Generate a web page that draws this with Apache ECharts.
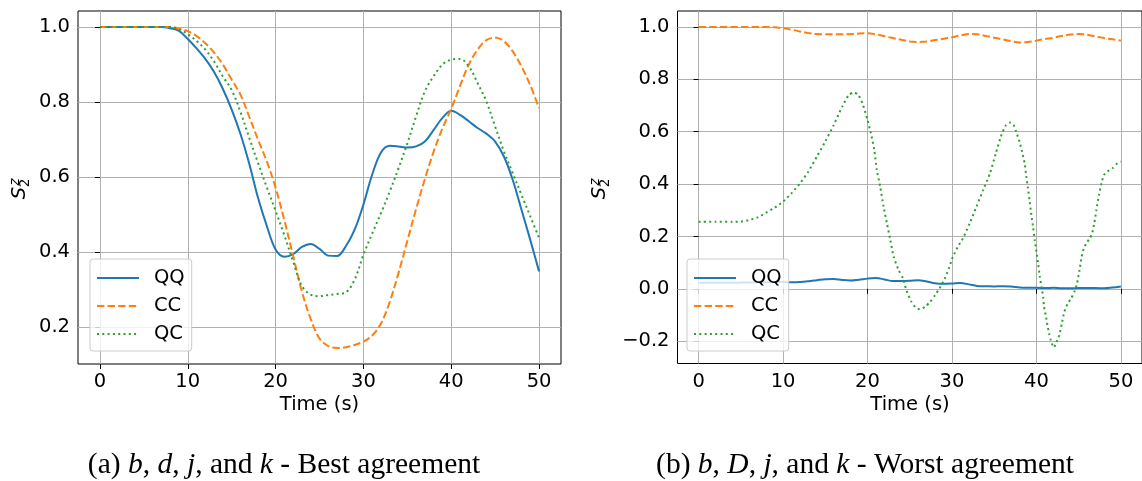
<!DOCTYPE html>
<html><head><meta charset="utf-8">
<script src="https://cdn.jsdelivr.net/npm/echarts@6/dist/echarts.min.js"></script>
<style>html,body{margin:0;padding:0;background:#fff}#c{width:1142px;height:481px}</style>
</head><body><div id="c"></div>
<script>
// ---- data ----
const seriesNames = ['QQ', 'CC', 'QC'];
const xTicks = [0, 10, 20, 30, 40, 50];
const yTicksA = [0.2, 0.4, 0.6, 0.8, 1.0];
const yTicksB = [-0.2, 0.0, 0.2, 0.4, 0.6, 0.8, 1.0];
const captionA = '(a) {i|b}, {i|d}, {i|j}, and {i|k} - Best agreement';
const captionB = '(b) {i|b}, {i|D}, {i|j}, and {i|k} - Worst agreement';
const xTitle = 'Time (s)';

const time = [0,1,2,3,4,5,6,7,8,9,10,11,12,13,14,15,16,17,18,19,20,21,22,23,24,25,26,27,28,29,30,31,32,33,34,35,36,37,38,39,40,41,42,43,44,45,46,47,48,49,50];

// (a) best agreement
const qqA = [1.0,1.0,1.0,1.0,1.0,1.0,1.0,1.0,0.997,0.99,0.968,0.943,0.915,0.88,0.835,0.78,0.715,0.636,0.545,0.47,0.407,0.388,0.395,0.414,0.422,0.409,0.391,0.39,0.416,0.46,0.527,0.607,0.666,0.684,0.682,0.679,0.682,0.695,0.726,0.758,0.777,0.766,0.749,0.731,0.716,0.695,0.655,0.593,0.513,0.433,0.349];
const ccA = [1.0,1.0,1.0,1.0,1.0,1.0,1.0,1.0,1.0,0.996,0.989,0.976,0.957,0.932,0.9,0.86,0.82,0.761,0.70,0.642,0.572,0.485,0.39,0.295,0.222,0.17,0.15,0.145,0.147,0.153,0.162,0.178,0.21,0.268,0.345,0.43,0.515,0.595,0.668,0.73,0.782,0.843,0.9,0.94,0.965,0.972,0.962,0.935,0.895,0.845,0.784];
const qcA = [1.0,1.0,1.0,1.0,1.0,1.0,1.0,1.0,1.0,0.994,0.981,0.963,0.94,0.908,0.868,0.832,0.774,0.705,0.638,0.573,0.51,0.445,0.375,0.31,0.287,0.283,0.286,0.289,0.293,0.327,0.393,0.45,0.504,0.562,0.624,0.69,0.762,0.829,0.869,0.9,0.913,0.915,0.895,0.851,0.802,0.735,0.669,0.611,0.553,0.496,0.438];

// (b) worst agreement
const qqB = [0.023,0.023,0.023,0.023,0.023,0.024,0.024,0.025,0.025,0.026,0.026,0.025,0.026,0.029,0.033,0.037,0.038,0.034,0.032,0.035,0.039,0.041,0.036,0.030,0.030,0.031,0.033,0.028,0.021,0.019,0.020,0.022,0.017,0.011,0.010,0.009,0.010,0.009,0.005,0.004,0.004,0.003,0.004,0.002,0.002,0.003,0.003,0.003,0.002,0.005,0.009];
const ccB = [1.0,1.0,1.0,1.0,1.0,1.0,1.0,1.0,1.0,0.999,0.995,0.99,0.983,0.977,0.973,0.972,0.972,0.972,0.973,0.975,0.976,0.972,0.965,0.958,0.951,0.945,0.943,0.945,0.95,0.955,0.961,0.968,0.973,0.972,0.966,0.959,0.953,0.946,0.941,0.943,0.948,0.954,0.959,0.966,0.971,0.973,0.971,0.964,0.958,0.953,0.948];
const timeQcB = [0,2,4,5,6,7,8,9,10,11,12,13,14,15,16,17,17.8,18.4,18.9,19.4,20,20.4,20.8,21.1,21.5,21.9,22.3,22.7,23.1,23.7,24.2,24.6,25.2,25.7,26.2,26.8,27.4,28,28.5,29.1,29.7,30.1,30.7,31.3,32.1,32.9,33.7,34.5,35.2,35.8,36.4,36.9,37.3,37.6,38,38.3,38.6,38.8,39,39.2,39.4,39.6,39.8,40,40.2,40.4,40.6,40.8,40.9,41.1,41.3,41.5,41.7,42.05,42.3,42.7,43,43.3,43.7,44.1,44.5,44.8,45.1,45.35,45.6,45.9,46.3,46.6,46.85,47.1,47.4,47.7,48,48.4,49,49.6,50];
const qcB = [0.256,0.256,0.256,0.257,0.263,0.273,0.291,0.31,0.333,0.365,0.403,0.448,0.505,0.563,0.626,0.696,0.741,0.75,0.741,0.709,0.645,0.594,0.531,0.454,0.39,0.314,0.25,0.186,0.122,0.07,0.04,-0.005,-0.05,-0.071,-0.078,-0.069,-0.05,-0.024,0.001,0.036,0.084,0.122,0.161,0.193,0.25,0.314,0.378,0.441,0.518,0.582,0.626,0.635,0.626,0.60,0.562,0.524,0.48,0.429,0.384,0.333,0.282,0.237,0.186,0.142,0.097,0.046,0.008,-0.031,-0.069,-0.101,-0.139,-0.171,-0.196,-0.224,-0.209,-0.177,-0.133,-0.088,-0.056,-0.037,-0.011,0.02,0.071,0.122,0.154,0.173,0.193,0.212,0.25,0.301,0.358,0.403,0.435,0.448,0.46,0.48,0.486];

// ---- styling ----
const FONT = 'DejaVu Sans';
const FS = 19.5;
const colors = ['#1f77b4', '#ff7f0e', '#2ca02c'];
const lineTypes = ['solid', [7.4, 3.2], [2, 3.3]];

function pairs(xs, ys) { return xs.map((t, i) => [t, ys[i]]); }
function fmtY(v) { const s = Math.abs(v).toFixed(1); return v < -1e-9 ? '\u2212' + s : s; }

function xAxis(gi) {
  return {
    gridIndex: gi, type: 'value', min: -2.5, max: 52.5,
    axisLine: { show: false },
    axisTick: { show: true, length: 5, lineStyle: { color: '#000', width: 1 }, customValues: xTicks },
    axisLabel: { customValues: xTicks, fontFamily: FONT, fontSize: FS, color: '#000', margin: 8, formatter: v => String(v) },
    splitLine: { show: true, lineStyle: { color: '#b0b0b0', width: 1 } }
  };
}
function yAxis(gi, mn, mx, ticks) {
  return {
    gridIndex: gi, type: 'value', min: mn, max: mx,
    axisLine: { show: false },
    axisTick: { show: true, length: 5, lineStyle: { color: '#000', width: 1 }, customValues: ticks },
    axisLabel: { customValues: ticks, fontFamily: FONT, fontSize: FS, color: '#000', margin: 8, formatter: fmtY },
    splitLine: { show: true, lineStyle: { color: '#b0b0b0', width: 1 } }
  };
}
function line(name, idx, gi, data, smooth) {
  return {
    name: name, type: 'line', xAxisIndex: gi, yAxisIndex: gi, data: data,
    symbol: 'none', smooth: smooth, clip: true,
    lineStyle: { color: colors[idx], width: 2, type: lineTypes[idx], cap: 'butt' },
    itemStyle: { color: colors[idx] }
  };
}
function legend(left) {
  return {
    left: left, top: 259, orient: 'vertical', padding: [9, 7, 7, 6],
    itemWidth: 42, itemHeight: 20, itemGap: 8, selectedMode: false,
    backgroundColor: 'rgba(255,255,255,0.8)', borderColor: '#cccccc', borderWidth: 1, borderRadius: 3,
    itemStyle: { opacity: 0, borderWidth: 0 },
    textStyle: { fontFamily: FONT, fontSize: FS, color: '#000', padding: [0, 0, 0, 10] },
    data: seriesNames
  };
}
function ylabel(dx) {
  return [
    { type: 'text', x: 19.5 + dx, y: 193, rotation: Math.PI / 2, style: { text: 'S', fontFamily: FONT, fontStyle: 'italic', fontSize: FS, fill: '#000', align: 'center', verticalAlign: 'middle' } },
    { type: 'text', x: 15 + dx, y: 182, rotation: Math.PI / 2, style: { text: 'z', fontFamily: FONT, fontStyle: 'italic', fontSize: 13.5, fill: '#000', align: 'center', verticalAlign: 'middle' } },
    { type: 'text', x: 25.5 + dx, y: 183, rotation: Math.PI / 2, style: { text: '2', fontFamily: FONT, fontSize: 13.5, fill: '#000', align: 'center', verticalAlign: 'middle' } }
  ];
}
function caption(text, cx) {
  return {
    type: 'text', x: cx, y: 465,
    style: { text: text, fontFamily: 'Liberation Serif', fontSize: 29.5, fill: '#000', align: 'center', verticalAlign: 'middle',
      rich: { i: { fontFamily: 'Liberation Serif', fontSize: 29.5, fontStyle: 'italic', fill: '#000' } } }
  };
}

const chart = echarts.init(document.getElementById('c'), null, { renderer: 'canvas' });
chart.setOption({
  animation: false,
  backgroundColor: '#fff',
  grid: [
    { left: 78, top: 11, width: 483, height: 353, show: true, borderColor: '#000', borderWidth: 1, backgroundColor: 'transparent' },
    { left: 677.5, top: 11, width: 465, height: 352.5, show: true, borderColor: '#000', borderWidth: 1, backgroundColor: 'transparent' }
  ],
  xAxis: [xAxis(0), xAxis(1)],
  yAxis: [yAxis(0, 0.10225, 1.04275, yTicksA), yAxis(1, -0.2852, 1.0612, yTicksB)],
  legend: [legend(90), legend(687)],
  series: [
    line('QQ', 0, 0, pairs(time, qqA), 0.35),
    line('CC', 1, 0, pairs(time, ccA), 0.35),
    line('QC', 2, 0, pairs(time, qcA), 0.35),
    line('QQ', 0, 1, pairs(time, qqB), 0.35),
    line('CC', 1, 1, pairs(time, ccB), 0.35),
    line('QC', 2, 1, pairs(timeQcB, qcB), 0.2)
  ],
  graphic: [
    ...ylabel(0), ...ylabel(580),
    { type: 'text', x: 319.5, y: 405, style: { text: xTitle, fontFamily: FONT, fontSize: FS, fill: '#000', align: 'center', verticalAlign: 'middle' } },
    { type: 'text', x: 910, y: 405, style: { text: xTitle, fontFamily: FONT, fontSize: FS, fill: '#000', align: 'center', verticalAlign: 'middle' } },
    caption(captionA, 284),
    caption(captionB, 865)
  ]
});
</script>
</body></html>
